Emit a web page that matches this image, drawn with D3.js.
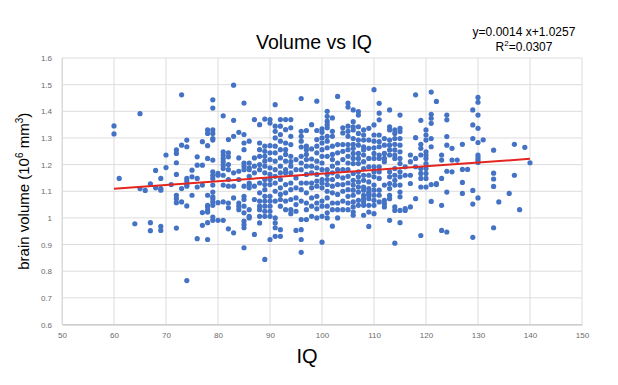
<!DOCTYPE html>
<html>
<head>
<meta charset="utf-8">
<script src="https://cdn.jsdelivr.net/npm/d3@7"></script>
<style>
  body { margin: 0; background: #fff; }
  svg { display: block; font-family: "Liberation Sans", Arial, sans-serif; }
</style>
</head>
<body>
<div id="chart"></div>
<script>
// IQ score levels and the brain volumes (10^6 mm^3) measured at each one
const iqLevels = [60, 61, 64, 65, 66, 67, 68, 69, 70, 71, 72, 73, 74, 75, 76, 77, 78, 79, 80, 81,
    82, 83, 84, 85, 86, 87, 88, 89, 90, 91, 92, 93, 94, 95, 96, 97, 98, 99, 100, 101,
    102, 103, 104, 105, 106, 107, 108, 109, 110, 111, 112, 113, 114, 115, 116, 117, 118, 119, 120, 121,
    122, 123, 124, 125, 126, 127, 128, 129, 130, 131, 133, 134, 136, 137, 138, 139, 140];

const volumesByIq = [
    [1.345, 1.315],
    [1.148],
    [0.978],
    [1.391, 1.110],
    [1.103],
    [1.128, 0.982, 0.952],
    [1.178, 1.113],
    [1.148, 1.110, 1.104, 0.968, 0.953],
    [1.236, 1.189],
    [1.125],
    [1.255, 1.242, 1.207, 1.163, 1.085, 1.072, 1.057, 0.962],
    [1.462, 1.273, 1.110, 1.060],
    [1.292, 1.267, 1.148, 1.138, 1.125, 1.119, 1.045, 0.765],
    [1.179, 1.154, 1.085],
    [1.229, 1.198, 1.148, 1.116, 0.922],
    [1.286, 1.198, 1.123, 1.020, 0.972],
    [1.330, 1.317, 1.271, 1.223, 1.085, 1.047, 1.041, 1.028, 1.022, 0.982, 0.919],
    [1.443, 1.412, 1.330, 1.317, 1.298, 1.292, 1.217, 1.173, 1.160, 1.148, 1.123, 1.097, 1.079, 1.072, 1.060, 1.047, 1.003, 0.991],
    [1.167, 1.160, 1.057, 0.991],
    [1.383, 1.248, 1.236, 1.223, 1.211, 1.198, 1.185, 1.160, 1.123, 1.060, 0.991],
    [1.294, 1.244, 1.229, 1.200, 1.181, 1.144, 1.119, 1.056, 1.038, 0.959],
    [1.498, 1.366, 1.306, 1.169, 1.119, 1.075, 0.944],
    [1.321, 1.225, 1.175, 1.144, 1.056, 1.044, 1.031],
    [1.431, 1.313, 1.281, 1.256, 1.206, 1.194, 1.181, 1.119, 1.081, 1.069, 1.044, 1.019, 0.988, 0.975, 0.963, 0.888],
    [1.288, 1.206, 1.188, 1.181, 1.156, 1.131, 1.125, 1.113, 1.031, 1.006, 1.000],
    [1.369, 1.225, 1.194, 1.169, 1.119, 1.069, 0.938],
    [1.350, 1.281, 1.256, 1.231, 1.200, 1.181, 1.131, 1.094, 1.063, 1.044, 1.031, 1.006, 0.981],
    [1.371, 1.269, 1.250, 1.231, 1.213, 1.194, 1.169, 1.144, 1.125, 1.106, 1.081, 1.063, 1.044, 1.025, 1.006, 0.844],
    [1.369, 1.356, 1.271, 1.244, 1.219, 1.188, 1.163, 1.144, 1.125, 1.081, 1.063, 1.044, 1.025, 1.006, 0.919],
    [1.425, 1.344, 1.325, 1.300, 1.269, 1.244, 1.213, 1.181, 1.156, 1.131, 1.100, 1.063, 1.000, 0.981, 0.963, 0.931],
    [1.369, 1.344, 1.313, 1.288, 1.256, 1.225, 1.194, 1.169, 1.144, 1.113, 1.088, 1.069, 1.044, 0.956, 0.931],
    [1.369, 1.331, 1.281, 1.256, 1.238, 1.213, 1.181, 1.169, 1.125, 1.094, 1.063, 1.031],
    [1.369, 1.338, 1.306, 1.275, 1.231, 1.211, 1.194, 1.169, 1.131, 1.106, 1.069, 1.031, 1.016],
    [1.219, 1.181, 1.150, 1.113, 1.075, 1.050, 1.025, 0.953],
    [1.448, 1.325, 1.306, 1.288, 1.266, 1.231, 1.206, 1.181, 1.131, 1.106, 1.063, 0.994, 0.956, 0.919, 0.871],
    [1.328, 1.269, 1.256, 1.238, 1.219, 1.194, 1.163, 1.131, 1.094, 1.056, 1.031, 0.994],
    [1.350, 1.259, 1.221, 1.194, 1.169, 1.131, 1.113, 1.075, 1.044, 1.006],
    [1.438, 1.328, 1.294, 1.269, 1.244, 1.213, 1.188, 1.163, 1.138, 1.119, 1.081, 1.056, 1.034, 1.000],
    [1.334, 1.321, 1.300, 1.281, 1.256, 1.231, 1.206, 1.181, 1.144, 1.131, 1.113, 1.063, 1.044, 1.006, 0.909],
    [1.400, 1.381, 1.363, 1.350, 1.338, 1.306, 1.288, 1.263, 1.231, 1.181, 1.163, 1.144, 1.125, 1.100, 1.075, 1.044, 1.019, 1.000],
    [1.375, 1.325, 1.306, 1.269, 1.238, 1.219, 1.194, 1.169, 1.144, 1.119, 1.094, 1.056, 1.031, 0.969],
    [1.456, 1.275, 1.244, 1.206, 1.181, 1.156, 1.125, 1.088, 1.056, 1.031, 1.000],
    [1.338, 1.319, 1.275, 1.250, 1.219, 1.181, 1.150, 1.125, 1.100, 1.063, 1.031],
    [1.431, 1.416, 1.344, 1.325, 1.306, 1.275, 1.256, 1.231, 1.206, 1.181, 1.156, 1.131, 1.106, 1.081, 1.056, 1.031],
    [1.405, 1.361, 1.342, 1.330, 1.298, 1.276, 1.261, 1.242, 1.223, 1.204, 1.167, 1.141, 1.123, 1.104, 1.085, 1.060, 1.041, 1.022, 1.010],
    [1.399, 1.386, 1.342, 1.317, 1.292, 1.273, 1.242, 1.223, 1.204, 1.173, 1.154, 1.135, 1.116, 1.097, 1.066, 1.047],
    [1.330, 1.311, 1.292, 1.267, 1.255, 1.236, 1.211, 1.185, 1.160, 1.141, 1.116, 1.104, 1.085, 1.072, 1.060, 1.047, 1.010],
    [1.336, 1.292, 1.261, 1.223, 1.192, 1.160, 1.135, 1.110, 1.097, 1.091, 1.085, 1.072, 1.047, 1.022, 0.968],
    [1.481, 1.349, 1.311, 1.288, 1.263, 1.242, 1.223, 1.192, 1.173, 1.154, 1.123, 1.104, 1.085, 1.066, 1.047, 1.016],
    [1.430, 1.393, 1.368, 1.311, 1.286, 1.267, 1.236, 1.223, 1.192, 1.173, 1.148, 1.104, 1.085, 1.060],
    [1.298, 1.273, 1.242, 1.223, 1.211, 1.123, 1.066, 1.054, 1.041],
    [1.405, 1.342, 1.330, 1.292, 1.273, 1.255, 1.236, 1.173, 1.154, 1.129, 1.110, 1.085, 1.072, 0.991],
    [1.330, 1.317, 1.298, 1.276, 1.255, 1.236, 1.223, 1.185, 1.160, 1.141, 1.123, 1.041, 1.028, 0.905],
    [1.386, 1.336, 1.324, 1.298, 1.273, 1.248, 1.223, 1.204, 1.173, 1.154, 1.123, 1.097, 1.079, 1.028, 0.982],
    [1.192, 1.160, 1.035, 1.028],
    [1.236, 1.211, 1.160, 1.129, 1.041],
    [1.462, 1.301, 1.223, 1.192, 1.072],
    [1.366, 1.276, 1.261, 1.236, 1.185, 1.167, 1.148, 1.116, 0.934],
    [1.330, 1.311, 1.292, 1.248, 1.236, 1.223, 1.204, 1.185, 1.167, 1.148, 1.116],
    [1.472, 1.389, 1.374, 1.355, 1.298, 1.267, 1.125, 1.062],
    [1.437, 1.129, 1.125],
    [1.236, 1.217, 1.148, 1.047, 0.953],
    [1.386, 1.368, 1.305, 1.273, 1.175, 1.097, 0.947],
    [1.261, 1.217, 1.173],
    [1.217],
    [1.276, 1.182, 1.133, 1.092],
    [1.182],
    [1.405, 1.349, 1.298, 1.103, 1.052, 0.927],
    [1.452, 1.434, 1.386, 1.336, 1.283, 1.236, 1.226, 1.217, 1.208, 1.075],
    [1.293],
    [1.254, 1.168, 1.146, 1.118, 0.963],
    [1.060],
    [1.092],
    [1.276, 1.160],
    [1.031],
    [1.265],
    [1.207]
];

// Excel linear trendline printed on the chart
const trendSlope = 0.0014;
const trendIntercept = 1.0257;
const trendR2 = "0.0307";

const xTicks = [50, 60, 70, 80, 90, 100, 110, 120, 130, 140, 150];
const yTicks = [0.6, 0.7, 0.8, 0.9, 1.0, 1.1, 1.2, 1.3, 1.4, 1.5, 1.6];

const points = iqLevels.flatMap((iq, i) => volumesByIq[i].map(v => ({ iq: iq, vol: v })));

const width = 618, height = 385;
const margin = { top: 58, right: 36, bottom: 60.5, left: 62 };
const innerW = width - margin.left - margin.right;
const innerH = height - margin.top - margin.bottom;

const svg = d3.select("#chart").append("svg")
    .attr("width", width)
    .attr("height", height);

const g = svg.append("g")
    .attr("transform", `translate(${margin.left},${margin.top})`);

const x = d3.scaleLinear().domain([50, 150]).range([0, innerW]);
const y = d3.scaleLinear().domain([0.6, 1.6]).range([innerH, 0]);

// gridlines
g.append("g")
    .selectAll("line")
    .data(xTicks)
    .join("line")
    .attr("x1", d => x(d)).attr("x2", d => x(d))
    .attr("y1", 0).attr("y2", innerH)
    .attr("stroke", "#dcdcdc");

g.append("g")
    .selectAll("line")
    .data(yTicks)
    .join("line")
    .attr("x1", 0).attr("x2", innerW)
    .attr("y1", d => y(d)).attr("y2", d => y(d))
    .attr("stroke", "#dcdcdc");

// axes (tick labels; the grid draws the lines)
const xAxis = d3.axisBottom(x).tickValues(xTicks).tickSize(0).tickPadding(8);
const yAxis = d3.axisLeft(y).tickValues(yTicks).tickSize(0).tickPadding(10)
    .tickFormat(d => d === 1 ? "1" : d3.format(".1f")(d));

g.append("g")
    .attr("transform", `translate(0,${innerH})`)
    .call(xAxis)
    .call(a => a.select(".domain").attr("stroke", "#bfbfbf"))
    .selectAll("text")
    .attr("fill", "#6b6b6b")
    .style("font-size", "8px");

g.append("g")
    .call(yAxis)
    .call(a => a.select(".domain").attr("stroke", "#d9d9d9"))
    .selectAll("text")
    .attr("fill", "#6b6b6b")
    .style("font-size", "8px");

// points
g.append("g")
    .selectAll("circle")
    .data(points)
    .join("circle")
    .attr("cx", d => x(d.iq))
    .attr("cy", d => y(d.vol))
    .attr("r", 2.6)
    .attr("fill", "#4472c4");

// trendline across the data extent
const iqExtent = d3.extent(iqLevels);
g.append("line")
    .attr("x1", x(iqExtent[0]))
    .attr("y1", y(trendSlope * iqExtent[0] + trendIntercept))
    .attr("x2", x(iqExtent[1]))
    .attr("y2", y(trendSlope * iqExtent[1] + trendIntercept))
    .attr("stroke", "#e3261f")
    .attr("stroke-width", 2);

// titles
svg.append("text")
    .attr("x", 314)
    .attr("y", 49)
    .attr("text-anchor", "middle")
    .style("font-size", "19.5px")
    .text("Volume vs IQ");

svg.append("text")
    .attr("x", 524)
    .attr("y", 36)
    .attr("text-anchor", "middle")
    .style("font-size", "12px")
    .text(`y=${trendSlope} x+${trendIntercept}`);

const r2 = svg.append("text")
    .attr("x", 524)
    .attr("y", 51)
    .attr("text-anchor", "middle")
    .style("font-size", "12px");
r2.append("tspan").text("R");
r2.append("tspan").attr("dy", -5).style("font-size", "8px").text("2");
r2.append("tspan").attr("dy", 5).text("=" + trendR2);

const yl = svg.append("text")
    .attr("transform", `translate(29,${margin.top + innerH / 2}) rotate(-90)`)
    .attr("text-anchor", "middle")
    .style("font-size", "15px");
yl.append("tspan").text("brain volume (10");
yl.append("tspan").attr("dy", -6).style("font-size", "10px").text("6");
yl.append("tspan").attr("dy", 6).text(" mm");
yl.append("tspan").attr("dy", -6).style("font-size", "10px").text("3");
yl.append("tspan").attr("dy", 6).text(")");

svg.append("text")
    .attr("x", 307)
    .attr("y", 363)
    .attr("text-anchor", "middle")
    .style("font-size", "20px")
    .text("IQ");
</script>
</body>
</html>
